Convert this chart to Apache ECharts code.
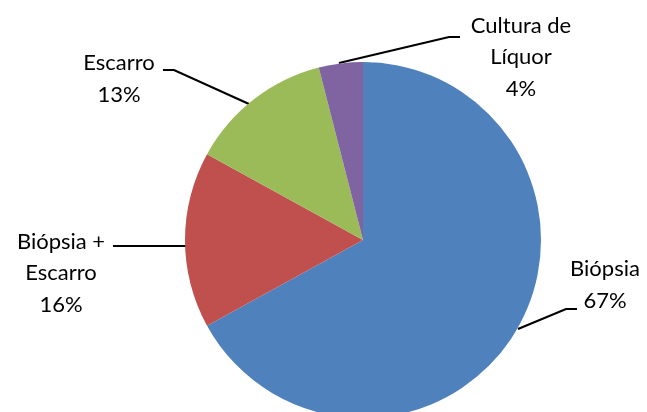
<!DOCTYPE html>
<html>
<head>
<meta charset="utf-8">
<script src="https://cdn.jsdelivr.net/npm/echarts@6/dist/echarts.min.js"></script>
<style>
  html, body { margin: 0; padding: 0; background: #fff; }
  #main { width: 647px; height: 412px; }
</style>
</head>
<body>
<div id="main"></div>
<script>
const categories = ['Biópsia', 'Biópsia +\nEscarro', 'Escarro', 'Cultura de\nLíquor']
const values = [67, 16, 13, 4]
const colors = ['#4F81BD', '#C0504D', '#9BBB59', '#8064A2']

// label placement (centre of text block) and leader lines, per slice
const labelPos = [[605, 285], [61, 273], [119, 79], [521, 57]]
const leaderLines = [
  [[518, 329], [566, 309], [577, 309]],
  [[186, 246], [150, 246], [113, 246]],
  [[249, 104], [174, 70], [163, 70]],
  [[339, 63], [449, 37], [460, 37]]
]

const chart = echarts.init(document.getElementById('main'))

chart.setOption({
  animation: false,
  series: [
    {
      type: 'pie',
      center: [363, 240],
      radius: 178,
      startAngle: 90,
      clockwise: true,
      data: categories.map((name, i) => ({
        name: name,
        value: values[i],
        itemStyle: { color: colors[i] }
      })),
      label: {
        show: true,
        position: 'outside',
        formatter: '{b}\n{d}%',
        fontFamily: 'Lato',
        fontSize: 22,
        lineHeight: 31.5,
        color: '#000',
        align: 'center'
      },
      labelLine: {
        show: true,
        lineStyle: { color: '#000', width: 2.2 }
      },
      labelLayout(params) {
        const i = params.dataIndex
        return {
          x: labelPos[i][0],
          y: labelPos[i][1],
          align: 'center',
          verticalAlign: 'middle',
          labelLinePoints: leaderLines[i]
        }
      },
      emphasis: { disabled: true }
    }
  ]
})
</script>
</body>
</html>
